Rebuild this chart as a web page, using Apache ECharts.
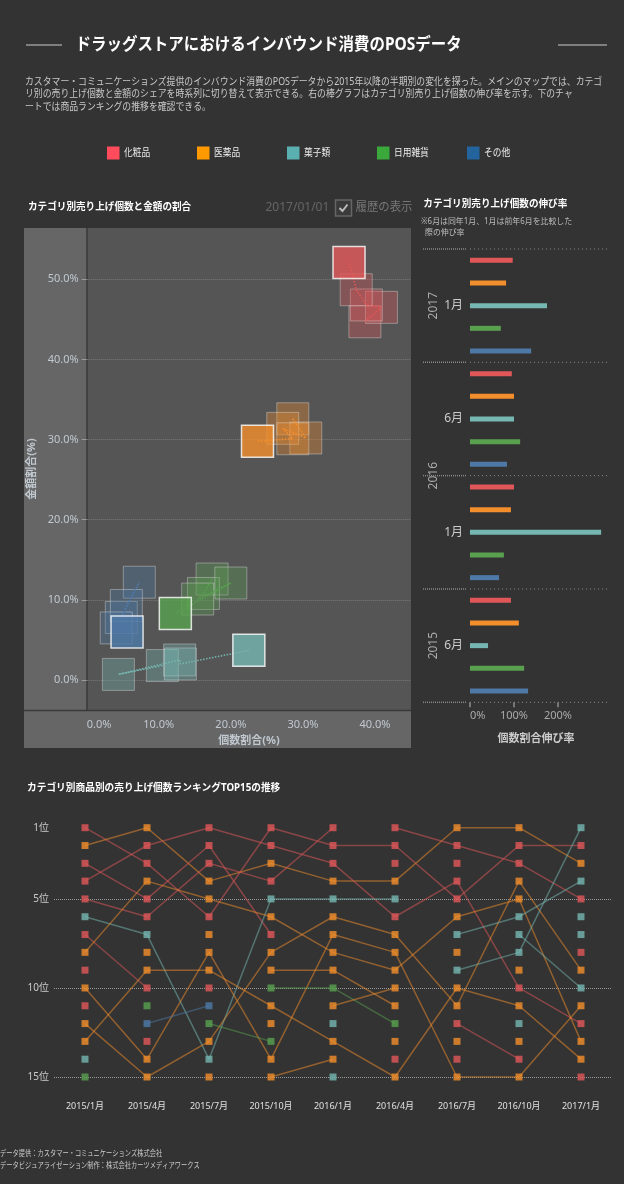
<!DOCTYPE html>
<html><head><meta charset="utf-8">
<script src="https://cdn.jsdelivr.net/npm/echarts@6/dist/echarts.min.js"></script>
<style>html,body{margin:0;padding:0;background:#333333;}#c{width:624px;height:1184px;}</style>
</head><body><div id="c"></div>
<script>
// ---------------- DATA ----------------
const categories = ['化粧品', '医薬品', '菓子類', '日用雑貨', 'その他'];

// scatter: share of units (x) and amount (y), periods 2015/1 .. 2017/1
const sharePeriods = ['2015/1', '2015/6', '2016/1', '2016/6', '2017/1'];
const unitShare = [
  [38.6, 40.9, 38.8, 37.4, 36.4],
  [28.6, 30.4, 27.2, 28.6, 23.7],
  [10.5, 4.4, 12.9, 13.0, 22.5],
  [17.4, 16.2, 15.4, 20.0, 12.3],
  [4.8, 7.3, 5.5, 4.1, 5.6]
];
const amountShare = [
  [44.7, 46.5, 46.8, 48.7, 52.1],
  [32.6, 30.2, 31.4, 30.1, 29.8],
  [1.8, 0.7, 2.5, 2.0, 3.7],
  [12.6, 10.8, 10.1, 12.1, 8.3],
  [7.8, 12.2, 9.3, 6.5, 6.0]
];

// growth bars (top to bottom)
const growthPeriods = ['2017/1月', '2016/6月', '2016/1月', '2015/6月'];
const growthMonths = ['1月', '6月', '1月', '6月'];
const growthYears = ['2017', '2016', '2015'];
const growthYearGroups = [[0, 0], [1, 2], [3, 3]];
const growthRate = [
  [97, 95, 100, 93],
  [82, 100, 93, 111],
  [175, 100, 298, 41],
  [70, 114, 77, 123],
  [139, 84, 66, 132]
];

// ranking TOP15
const rankPeriods = ['2015/1月', '2015/4月', '2015/7月', '2015/10月', '2016/1月', '2016/4月', '2016/7月', '2016/10月', '2017/1月'];
const rankLabels = ['1位','2位','3位','4位','5位','6位','7位','8位','9位','10位','11位','12位','13位','14位','15位'];
const rankShownLabels = ['1位', '5位', '10位', '15位'];
const productCategory = [
  0,1,0,0,0,2,0,1,0,1,0,1,1,2,3,
  1,3,4,0,
  1,0,3,1,
  1,3,1,1,
  1,2,2,
  0,0,1,0,
  0,2,1,2,0,1,0,
  2,1,2,1,
  2,2,0,0
];
const productRanks = [
  [1,3,6,1,2,2,5,2,2],
  [2,1,4,3,4,4,1,1,3],
  [3,5,2,7,0,0,0,0,0],
  [4,2,1,2,3,6,4,10,12],
  [5,6,3,4,1,0,0,0,0],
  [6,7,14,5,5,5,0,0,0],
  [7,10,0,0,0,0,0,0,0],
  [8,4,5,6,8,9,6,5,13],
  [9,0,0,0,0,0,0,0,0],
  [10,14,8,14,7,8,15,15,11],
  [11,0,0,0,0,0,0,0,0],
  [12,15,13,8,6,7,11,4,9],
  [13,9,9,11,13,15,10,11,14],
  [14,0,0,0,0,0,0,0,0],
  [15,0,0,0,0,0,0,0,0],
  [0,8,0,0,0,0,0,0,0],
  [0,11,0,0,0,0,0,0,0],
  [0,12,11,0,0,0,0,0,0],
  [0,13,0,0,0,0,0,0,0],
  [0,0,7,0,0,0,0,0,0],
  [0,0,10,0,0,0,0,0,0],
  [0,0,12,13,0,0,0,0,0],
  [0,0,15,0,0,0,0,0,0],
  [0,0,0,9,9,11,0,0,0],
  [0,0,0,10,10,12,0,0,0],
  [0,0,0,12,0,0,0,0,0],
  [0,0,0,15,14,0,0,0,0],
  [0,0,0,0,11,10,0,0,0],
  [0,0,0,0,12,0,0,0,0],
  [0,0,0,0,15,0,0,0,0],
  [0,0,0,0,0,1,2,3,5],
  [0,0,0,0,0,3,0,0,0],
  [0,0,0,0,0,13,0,0,0],
  [0,0,0,0,0,14,0,0,0],
  [0,0,0,0,0,0,3,0,0],
  [0,0,0,0,0,0,7,6,4],
  [0,0,0,0,0,0,8,0,0],
  [0,0,0,0,0,0,9,8,1],
  [0,0,0,0,0,0,12,14,0],
  [0,0,0,0,0,0,13,0,0],
  [0,0,0,0,0,0,14,0,0],
  [0,0,0,0,0,0,0,7,10],
  [0,0,0,0,0,0,0,9,0],
  [0,0,0,0,0,0,0,12,0],
  [0,0,0,0,0,0,0,13,0],
  [0,0,0,0,0,0,0,0,6],
  [0,0,0,0,0,0,0,0,7],
  [0,0,0,0,0,0,0,0,8],
  [0,0,0,0,0,0,0,0,15]
];

// ---------------- STYLE ----------------
const COLORS = ['#e15759', '#f28e2b', '#76b7b2', '#59a14f', '#4e79a7'];
const LEGEND_COLORS = ['#ff4b5c', '#ff9900', '#5aafb0', '#3ba83b', '#23649f'];
const FONT = "'Noto Sans', 'Noto Sans CJK JP', sans-serif";
function rgba(hex, a) {
  const n = parseInt(hex.slice(1), 16);
  return 'rgba(' + (n >> 16 & 255) + ',' + (n >> 8 & 255) + ',' + (n & 255) + ',' + a + ')';
}
function T(x, y, text, o) {
  o = o || {};
  return {
    type: 'text', x: x, y: y, scaleX: o.sx || 1, scaleY: 1, rotation: o.rot || 0, z: 20, silent: true,
    style: {
      text: text, fill: o.color || '#ffffff', fontSize: o.size || 10,
      fontWeight: o.bold ? 'bold' : 'normal', fontFamily: FONT,
      align: o.align || 'left', verticalAlign: o.va || 'middle', lineHeight: o.lh
    }
  };
}

// ---------------- LAYOUT ----------------
const G0 = { left: 86.7, top: 279.3, width: 324.3, height: 400.7 };
const G1 = { left: 470, top: 249, width: 132, height: 453.3 };
const G2 = { left: 54, top: 827.7, width: 558, height: 249.3 };

const graphic = [];
// header
graphic.push({ type: 'line', shape: { x1: 26, y1: 45, x2: 62, y2: 45 }, style: { stroke: '#cccccc', lineWidth: 1 }, silent: true });
graphic.push({ type: 'line', shape: { x1: 558, y1: 45, x2: 607, y2: 45 }, style: { stroke: '#cccccc', lineWidth: 1 }, silent: true });
graphic.push(T(75.5, 45, 'ドラッグストアにおけるインバウンド消費のPOSデータ', { size: 17, bold: true, sx: 0.91 }));
graphic.push(T(25, 75.5,
  'カスタマー・コミュニケーションズ提供のインバウンド消費のPOSデータから2015年以降の半期別の変化を探った。メインのマップでは、カテゴ\n' +
  'リ別の売り上げ個数と金額のシェアを時系列に切り替えて表示できる。右の棒グラフはカテゴリ別売り上げ個数の伸び率を示す。下のチャ\n' +
  'ートでは商品ランキングの推移を確認できる。',
  { size: 10, color: '#c8c8c8', sx: 0.885, va: 'top', lh: 12.5 }));
// legend
categories.forEach(function (c, i) {
  const x = 107 + i * 90;
  graphic.push({ type: 'rect', shape: { x: x, y: 146.5, width: 12.5, height: 13 }, style: { fill: LEGEND_COLORS[i] }, silent: true });
  graphic.push(T(x + 17, 153, c, { size: 10, color: '#eeeeee', sx: 0.87 }));
});

// scatter panel
graphic.push({ type: 'rect', shape: { x: 24, y: 228, width: 387, height: 520 }, style: { fill: '#666666' }, z: -10, silent: true });
graphic.push({ type: 'rect', shape: { x: 87, y: 228, width: 324, height: 482 }, style: { fill: '#555555' }, z: -9, silent: true });
graphic.push({ type: 'line', shape: { x1: 87, y1: 228, x2: 87, y2: 710 }, style: { stroke: '#3a3a3a', lineWidth: 1.5 }, z: -8, silent: true });
graphic.push({ type: 'line', shape: { x1: 24, y1: 710.5, x2: 411, y2: 710.5 }, style: { stroke: '#3a3a3a', lineWidth: 1.5 }, z: -8, silent: true });
graphic.push(T(28, 207.3, 'カテゴリ別売り上げ個数と金額の割合', { size: 10, bold: true, sx: 0.96 }));
graphic.push(T(265.5, 207.3, '2017/01/01', { size: 12, color: '#666666' }));
graphic.push({ type: 'rect', shape: { x: 335.5, y: 200, width: 16, height: 16 }, style: { fill: '#3a3a3a', stroke: '#666666', lineWidth: 1.5 }, silent: true });
graphic.push({ type: 'polyline', shape: { points: [[339.5, 208], [342.5, 211], [347.5, 204.5]] }, style: { stroke: '#bbbbbb', lineWidth: 2, fill: null }, silent: true });
graphic.push(T(355.5, 207.3, '履歴の表示', { size: 12, color: '#777777', sx: 0.95 }));
graphic.push(T(31.5, 469, '金額割合(%)', { size: 11, bold: true, color: '#c0c8d0', align: 'center', rot: Math.PI / 2 }));
graphic.push(T(249, 741, '個数割合(%)', { size: 11, bold: true, color: '#c0c8d0', align: 'center' }));

// growth panel
graphic.push(T(423.3, 204, 'カテゴリ別売り上げ個数の伸び率', { size: 10, bold: true, sx: 0.96 }));
graphic.push(T(421, 221.7, '※6月は同年1月、1月は前年6月を比較した', { size: 8.5, color: '#bbbbbb', sx: 0.93 }));
graphic.push(T(425, 232.7, '際の伸び率', { size: 8.5, color: '#bbbbbb', sx: 0.93 }));
const groupH = G1.height / growthPeriods.length;
for (let k = 0; k <= growthPeriods.length; k++) {
  const y = G1.top + k * groupH;
  graphic.push({ type: 'line', shape: { x1: 423, y1: y, x2: 467, y2: y }, style: { stroke: '#888888', lineWidth: 1.5, lineDash: [1, 1] }, silent: true });
  graphic.push({ type: 'line', shape: { x1: 470, y1: y, x2: 608, y2: y }, style: { stroke: '#8a8a8a', lineWidth: 1, lineDash: [1, 3] }, silent: true });
}
growthYears.forEach(function (yr, i) {
  const g = growthYearGroups[i];
  const yc = G1.top + (g[0] + g[1] + 1) / 2 * groupH;
  graphic.push(T(434, yc, yr, { size: 12, color: '#aaaaaa', align: 'center', rot: Math.PI / 2 }));
});

// ranking
graphic.push(T(27, 788.3, 'カテゴリ別商品別の売り上げ個数ランキングTOP15の推移', { size: 10, bold: true, sx: 0.97 }));
// footer
graphic.push(T(0, 1153.3, 'データ提供：カスタマー・コミュニケーションズ株式会社', { size: 8, color: '#cccccc', sx: 0.78 }));
graphic.push(T(0, 1165.7, 'データビジュアライゼーション制作：株式会社カーツメディアワークス', { size: 8, color: '#cccccc', sx: 0.78 }));

// ---------------- SERIES ----------------
const series = [];
categories.forEach(function (c, ci) {
  const pts = sharePeriods.map(function (p, i) { return [unitShare[ci][i], amountShare[ci][i]]; });
  series.push({
    type: 'scatter', name: c + '履歴', xAxisIndex: 0, yAxisIndex: 0, data: pts.slice(0, pts.length - 1),
    symbol: 'rect', symbolSize: 32, clip: false, z: 2, silent: true,
    itemStyle: { color: rgba(COLORS[ci], 0.42), borderColor: 'rgba(225,225,225,0.5)', borderWidth: 1 }
  });
  series.push({
    type: 'line', name: c + '軌跡', xAxisIndex: 0, yAxisIndex: 0, data: pts, symbol: 'none', clip: false, z: 3, silent: true,
    lineStyle: { type: 'dotted', width: 1.5, color: COLORS[ci] }
  });
  series.push({
    type: 'scatter', name: c, xAxisIndex: 0, yAxisIndex: 0, data: pts.slice(pts.length - 1),
    symbol: 'rect', symbolSize: 32, clip: false, z: 4, silent: true,
    itemStyle: { color: COLORS[ci], borderColor: '#ffffff', borderWidth: 1.5 }
  });
});

const barCats = [], barData = [];
growthPeriods.forEach(function (p, pi) {
  categories.forEach(function (c, ci) {
    barCats.push(p + ' ' + c);
    barData.push({ value: growthRate[ci][pi], itemStyle: { color: COLORS[ci] } });
  });
});
series.push({ type: 'bar', xAxisIndex: 1, yAxisIndex: 1, data: barData, barWidth: 5, silent: true });

productRanks.forEach(function (ranks, pi) {
  const n = ranks.filter(function (r) { return r > 0; }).length;
  if (n < 2) return;
  series.push({
    type: 'line', xAxisIndex: 2, yAxisIndex: 2, symbol: 'none', connectNulls: false, z: 2, silent: true,
    data: ranks.map(function (r) { return r > 0 ? r - 1 : '-'; }),
    lineStyle: { width: 1.5, color: rgba(COLORS[productCategory[pi]], 0.5) }
  });
});
categories.forEach(function (c, ci) {
  const pts = [];
  productRanks.forEach(function (ranks, pi) {
    if (productCategory[pi] !== ci) return;
    ranks.forEach(function (r, t) { if (r > 0) pts.push([t, r - 1]); });
  });
  series.push({
    type: 'scatter', xAxisIndex: 2, yAxisIndex: 2, data: pts, symbol: 'rect', symbolSize: 7, z: 5, silent: true,
    itemStyle: { color: COLORS[ci] }
  });
});

const shownIdx = rankShownLabels.map(function (l) { return rankLabels.indexOf(l); });

const option = {
  backgroundColor: '#333333',
  animation: false,
  textStyle: { fontFamily: FONT },
  grid: [
    Object.assign({ containLabel: false }, G0),
    Object.assign({ containLabel: false }, G1),
    Object.assign({ containLabel: false }, G2)
  ],
  xAxis: [
    {
      type: 'value', gridIndex: 0, min: 0, max: 45, interval: 10,
      axisLine: { show: false }, axisTick: { show: false }, splitLine: { show: false },
      axisLabel: { formatter: function (v) { return v.toFixed(1) + '%'; }, color: '#c0c8d0', fontSize: 11, margin: 39, alignMinLabel: 'left', showMaxLabel: false }
    },
    {
      type: 'value', gridIndex: 1, min: 0, max: 300, interval: 100,
      axisLine: { show: false }, splitLine: { show: false },
      axisTick: { show: true, length: 5, lineStyle: { color: '#777777', width: 2 } },
      axisLabel: { formatter: '{value}%', color: '#aaaaaa', fontSize: 11, margin: 8, alignMinLabel: 'left', showMaxLabel: false },
      name: '個数割合伸び率', nameLocation: 'middle', nameGap: 31,
      nameTextStyle: { color: '#cccccc', fontSize: 11, fontWeight: 'bold' }
    },
    {
      type: 'category', gridIndex: 2, data: rankPeriods, boundaryGap: true,
      axisLine: { show: false }, axisTick: { show: false },
      axisLabel: { color: '#e0e0e0', fontSize: 9, margin: 25, interval: 0 }
    }
  ],
  yAxis: [
    {
      type: 'value', gridIndex: 0, min: 0, max: 50, interval: 10,
      axisLine: { show: false },
      axisTick: { show: true, length: 5, lineStyle: { color: '#999999' } },
      axisLabel: { formatter: function (v) { return v.toFixed(1) + '%'; }, color: '#c0c8d0', fontSize: 11, margin: 8 },
      splitLine: { show: true, lineStyle: { type: 'dotted', color: '#7b7b7b', width: 1 } }
    },
    {
      type: 'category', gridIndex: 1, data: barCats, inverse: true,
      axisLine: { show: false }, axisTick: { show: false }, splitLine: { show: false },
      axisLabel: {
        interval: 0, margin: 7, color: '#cccccc', fontSize: 12,
        formatter: function (v, i) { return i % 5 === 2 ? growthMonths[Math.floor(i / 5)] : ''; }
      }
    },
    {
      type: 'category', gridIndex: 2, data: rankLabels, inverse: true, boundaryGap: false,
      axisLine: { show: false }, axisTick: { show: false },
      axisLabel: { color: '#cccccc', fontSize: 10, margin: 5, interval: function (i) { return shownIdx.indexOf(i) >= 0; } },
      splitLine: { show: true, interval: function (i) { return i > 0 && shownIdx.indexOf(i) >= 0; }, lineStyle: { type: 'dotted', color: '#999999', width: 1 } }
    }
  ],
  graphic: graphic,
  series: series
};

const chart = echarts.init(document.getElementById('c'), null, { renderer: 'canvas' });
chart.setOption(option);
</script>
</body></html>
